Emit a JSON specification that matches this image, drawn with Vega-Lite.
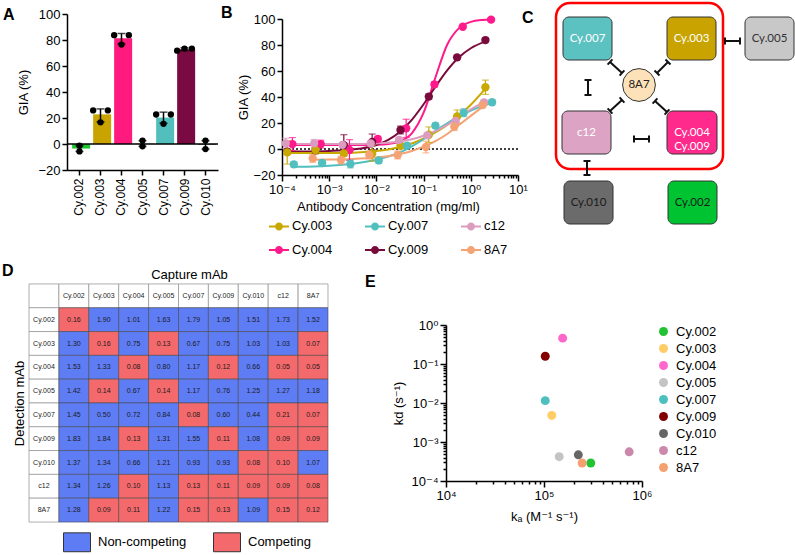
{
 "$schema": "https://vega.github.io/schema/vega-lite/v6.json",
 "padding": {"left": 2, "top": 1, "right": 0, "bottom": 0},
 "background": "white",
 "config": {
  "font": "Liberation Sans",
  "view": {"stroke": null},
  "axis": {"domainColor": "#000", "domainWidth": 1.5, "tickColor": "#000", "tickWidth": 1.5, "tickSize": 5, "labelColor": "#000", "labelFontSize": 13, "labelFont": "Liberation Sans, DejaVu Sans", "titleFont": "Liberation Sans, DejaVu Sans", "titleFontSize": 13, "titleFontWeight": "normal", "titleColor": "#000", "grid": false, "labelPadding": 2, "labelOverlap": false},
  "legend": {"labelFontSize": 13, "labelColor": "#000", "labelFont": "Liberation Sans"},
  "title": {"fontSize": 16, "fontWeight": "bold", "anchor": "start", "frame": "group", "offset": 0, "baseline": "bottom", "color": "#000", "font": "Liberation Sans"}
 },
 "datasets": {
  "giaBars": [
   {"ab": "Cy.002", "mean": -3.5, "lo": -5.7, "hi": -1.3},
   {"ab": "Cy.003", "mean": 22.8, "lo": 17, "hi": 27},
   {"ab": "Cy.004", "mean": 81.3, "lo": 77, "hi": 85},
   {"ab": "Cy.005", "mean": 0.4, "lo": -1.8, "hi": 2.6},
   {"ab": "Cy.007", "mean": 20.3, "lo": 16, "hi": 24.5},
   {"ab": "Cy.009", "mean": 72.9, "lo": 71.8, "hi": 74},
   {"ab": "Cy.010", "mean": -0.6, "lo": -3.9, "hi": 2.6}
  ],
  "giaReps": [
   {"ab": "Cy.002", "rep": "M", "v": -1.3}, {"ab": "Cy.002", "rep": "M", "v": -5.7},
   {"ab": "Cy.003", "rep": "L", "v": 25.8}, {"ab": "Cy.003", "rep": "R", "v": 25.8}, {"ab": "Cy.003", "rep": "M", "v": 16.7},
   {"ab": "Cy.004", "rep": "L", "v": 83.7}, {"ab": "Cy.004", "rep": "R", "v": 83.7}, {"ab": "Cy.004", "rep": "M", "v": 76.5},
   {"ab": "Cy.005", "rep": "M", "v": 2.6}, {"ab": "Cy.005", "rep": "M", "v": -1.8},
   {"ab": "Cy.007", "rep": "L", "v": 22.7}, {"ab": "Cy.007", "rep": "R", "v": 22.7}, {"ab": "Cy.007", "rep": "M", "v": 15.5},
   {"ab": "Cy.009", "rep": "L", "v": 71.8}, {"ab": "Cy.009", "rep": "M", "v": 73.4}, {"ab": "Cy.009", "rep": "R", "v": 73.4},
   {"ab": "Cy.010", "rep": "M", "v": 2.6}, {"ab": "Cy.010", "rep": "M", "v": -3.9}
  ],
  "curves": [
   {"s": "Cy.004", "c": 0.000166, "g": 3.0}, {"s": "Cy.004", "c": 0.000316, "g": 3.0}, {"s": "Cy.004", "c": 0.001, "g": 3.0}, {"s": "Cy.004", "c": 0.00316, "g": 3.1}, {"s": "Cy.004", "c": 0.01, "g": 3.3}, {"s": "Cy.004", "c": 0.0178, "g": 3.9}, {"s": "Cy.004", "c": 0.0316, "g": 5.9}, {"s": "Cy.004", "c": 0.0562, "g": 12.1}, {"s": "Cy.004", "c": 0.1, "g": 27.9}, {"s": "Cy.004", "c": 0.178, "g": 55}, {"s": "Cy.004", "c": 0.316, "g": 80.2}, {"s": "Cy.004", "c": 0.562, "g": 93}, {"s": "Cy.004", "c": 1, "g": 97.8}, {"s": "Cy.004", "c": 1.78, "g": 99.3}, {"s": "Cy.004", "c": 2.69, "g": 99.7},
   {"s": "Cy.009", "c": 0.000129, "g": -1.9}, {"s": "Cy.009", "c": 0.000316, "g": -1.85}, {"s": "Cy.009", "c": 0.001, "g": -1.5}, {"s": "Cy.009", "c": 0.00316, "g": -0.4}, {"s": "Cy.009", "c": 0.01, "g": 3.1}, {"s": "Cy.009", "c": 0.0178, "g": 7.0}, {"s": "Cy.009", "c": 0.0316, "g": 13.3}, {"s": "Cy.009", "c": 0.0562, "g": 22.4}, {"s": "Cy.009", "c": 0.1, "g": 34.4}, {"s": "Cy.009", "c": 0.178, "g": 47.9}, {"s": "Cy.009", "c": 0.316, "g": 60.5}, {"s": "Cy.009", "c": 0.562, "g": 70.6}, {"s": "Cy.009", "c": 1, "g": 77.5}, {"s": "Cy.009", "c": 2.04, "g": 82.8},
   {"s": "Cy.003", "c": 0.000129, "g": -3.0}, {"s": "Cy.003", "c": 0.000316, "g": -3.0}, {"s": "Cy.003", "c": 0.001, "g": -3.0}, {"s": "Cy.003", "c": 0.00316, "g": -2.8}, {"s": "Cy.003", "c": 0.01, "g": -1.6}, {"s": "Cy.003", "c": 0.0178, "g": -0.4}, {"s": "Cy.003", "c": 0.0316, "g": 1.5}, {"s": "Cy.003", "c": 0.0562, "g": 4.2}, {"s": "Cy.003", "c": 0.1, "g": 8.2}, {"s": "Cy.003", "c": 0.178, "g": 12.8}, {"s": "Cy.003", "c": 0.316, "g": 18.5}, {"s": "Cy.003", "c": 0.562, "g": 25.5}, {"s": "Cy.003", "c": 1, "g": 34}, {"s": "Cy.003", "c": 2.04, "g": 46.5},
   {"s": "Cy.007", "c": 0.000178, "g": -13.8}, {"s": "Cy.007", "c": 0.000316, "g": -13.6}, {"s": "Cy.007", "c": 0.001, "g": -12.9}, {"s": "Cy.007", "c": 0.00316, "g": -11.3}, {"s": "Cy.007", "c": 0.01, "g": -8.2}, {"s": "Cy.007", "c": 0.0178, "g": -5.8}, {"s": "Cy.007", "c": 0.0316, "g": -2.6}, {"s": "Cy.007", "c": 0.0562, "g": 2}, {"s": "Cy.007", "c": 0.1, "g": 7.5}, {"s": "Cy.007", "c": 0.178, "g": 14}, {"s": "Cy.007", "c": 0.316, "g": 19.8}, {"s": "Cy.007", "c": 0.562, "g": 25}, {"s": "Cy.007", "c": 1, "g": 29.5}, {"s": "Cy.007", "c": 1.78, "g": 33.2}, {"s": "Cy.007", "c": 2.82, "g": 35.8},
   {"s": "c12", "c": 0.00012, "g": 3.8}, {"s": "c12", "c": 0.000316, "g": 3.8}, {"s": "c12", "c": 0.001, "g": 3.8}, {"s": "c12", "c": 0.00316, "g": 3.9}, {"s": "c12", "c": 0.01, "g": 4.3}, {"s": "c12", "c": 0.0316, "g": 5.8}, {"s": "c12", "c": 0.0562, "g": 7.5}, {"s": "c12", "c": 0.1, "g": 10.2}, {"s": "c12", "c": 0.178, "g": 13.8}, {"s": "c12", "c": 0.316, "g": 18.5}, {"s": "c12", "c": 0.562, "g": 24.5}, {"s": "c12", "c": 1, "g": 30.5}, {"s": "c12", "c": 1.91, "g": 35.8},
   {"s": "8A7", "c": 0.000447, "g": -8.3}, {"s": "8A7", "c": 0.001, "g": -8.1}, {"s": "8A7", "c": 0.00316, "g": -7.6}, {"s": "8A7", "c": 0.01, "g": -6.5}, {"s": "8A7", "c": 0.0178, "g": -5.5}, {"s": "8A7", "c": 0.0316, "g": -3.8}, {"s": "8A7", "c": 0.0562, "g": -1.5}, {"s": "8A7", "c": 0.1, "g": 1.8}, {"s": "8A7", "c": 0.178, "g": 6}, {"s": "8A7", "c": 0.316, "g": 11.5}, {"s": "8A7", "c": 0.562, "g": 18.5}, {"s": "8A7", "c": 1, "g": 25.5}, {"s": "8A7", "c": 1.78, "g": 32.5}
  ],
  "pts": [
   {"s": "Cy.004", "c": 0.000166, "g": 3.8, "lo": -1.2, "hi": 8.8}, {"s": "Cy.004", "c": 0.000661, "g": 3.8, "lo": 0.8, "hi": 6.8}, {"s": "Cy.004", "c": 0.00269, "g": -0.8, "lo": -8.8, "hi": 7.2}, {"s": "Cy.004", "c": 0.0107, "g": 7.7, "lo": 5.7, "hi": 9.7}, {"s": "Cy.004", "c": 0.0427, "g": 15.9, "lo": 8.9, "hi": 22.9}, {"s": "Cy.004", "c": 0.17, "g": 49.7, "lo": 47.7, "hi": 51.7}, {"s": "Cy.004", "c": 0.676, "g": 94, "lo": 93, "hi": 95}, {"s": "Cy.004", "c": 2.69, "g": 99.5, "lo": 98.5, "hi": 100.5},
   {"s": "Cy.009", "c": 0.000129, "g": -2, "lo": -4, "hi": 0}, {"s": "Cy.009", "c": 0.000513, "g": -1, "lo": -3, "hi": 1}, {"s": "Cy.009", "c": 0.00204, "g": 3, "lo": -5, "hi": 11}, {"s": "Cy.009", "c": 0.00813, "g": 5.5, "lo": -0.5, "hi": 11.5}, {"s": "Cy.009", "c": 0.0324, "g": 14.6, "lo": 11.6, "hi": 17.6}, {"s": "Cy.009", "c": 0.129, "g": 40.3, "lo": 38.3, "hi": 42.3}, {"s": "Cy.009", "c": 0.513, "g": 70.5, "lo": 69, "hi": 72}, {"s": "Cy.009", "c": 2.04, "g": 83.8, "lo": 82.3, "hi": 85.3},
   {"s": "Cy.003", "c": 0.000129, "g": -2.6, "lo": -11.6, "hi": 6.4}, {"s": "Cy.003", "c": 0.000513, "g": -0.8, "lo": -3.8, "hi": 2.2}, {"s": "Cy.003", "c": 0.00204, "g": -3.4, "lo": -5.4, "hi": -1.4}, {"s": "Cy.003", "c": 0.00813, "g": -3.4, "lo": -9.4, "hi": 2.6}, {"s": "Cy.003", "c": 0.0324, "g": 2.5, "lo": 0.5, "hi": 4.5}, {"s": "Cy.003", "c": 0.129, "g": 11, "lo": 5, "hi": 17}, {"s": "Cy.003", "c": 0.513, "g": 25, "lo": 20, "hi": 30}, {"s": "Cy.003", "c": 2.04, "g": 47.5, "lo": 42, "hi": 53},
   {"s": "Cy.007", "c": 0.000178, "g": -11.8, "lo": -13.8, "hi": -9.8}, {"s": "Cy.007", "c": 0.000708, "g": -10.8, "lo": -12.8, "hi": -8.8}, {"s": "Cy.007", "c": 0.00282, "g": -11.5, "lo": -14.5, "hi": -8.5}, {"s": "Cy.007", "c": 0.0112, "g": -8.8, "lo": -10.8, "hi": -6.8}, {"s": "Cy.007", "c": 0.0447, "g": 2.5, "lo": 0.5, "hi": 4.5}, {"s": "Cy.007", "c": 0.178, "g": 18, "lo": 16, "hi": 20}, {"s": "Cy.007", "c": 0.708, "g": 27.9, "lo": 24.9, "hi": 30.9}, {"s": "Cy.007", "c": 2.82, "g": 36, "lo": 34, "hi": 38},
   {"s": "c12", "c": 0.00012, "g": 4.3, "lo": 0.3, "hi": 8.3}, {"s": "c12", "c": 0.000479, "g": 4.3, "lo": 1.3, "hi": 7.3}, {"s": "c12", "c": 0.00191, "g": 3.2, "lo": 1.2, "hi": 5.2}, {"s": "c12", "c": 0.00759, "g": 4.2, "lo": 2.2, "hi": 6.2}, {"s": "c12", "c": 0.0302, "g": 6.9, "lo": 4.9, "hi": 8.9}, {"s": "c12", "c": 0.12, "g": 10.5, "lo": 8.5, "hi": 12.5}, {"s": "c12", "c": 0.479, "g": 21.5, "lo": 19.5, "hi": 23.5}, {"s": "c12", "c": 1.91, "g": 35.8, "lo": 33.8, "hi": 37.8},
   {"s": "8A7", "c": 0.000447, "g": -7.2, "lo": -10.2, "hi": -4.2}, {"s": "8A7", "c": 0.00178, "g": -8.5, "lo": -11.5, "hi": -5.5}, {"s": "8A7", "c": 0.00708, "g": -4.6, "lo": -7.6, "hi": -1.6}, {"s": "8A7", "c": 0.0282, "g": -4.6, "lo": -7.6, "hi": -1.6}, {"s": "8A7", "c": 0.112, "g": 1.5, "lo": -3, "hi": 6}, {"s": "8A7", "c": 0.447, "g": 17.2, "lo": 14.2, "hi": 20.2}, {"s": "8A7", "c": 1.78, "g": 33.8, "lo": 31.8, "hi": 35.8}
  ],
  "cFrame": [{"x": 16, "x2": 183, "y": -11, "y2": 155}],
  "cBoxes": [
   {"n": "Cy.007", "t": "Cy.007", "x": 23, "x2": 72, "y": 3, "y2": 46, "cx": 47.5, "cy": 24.5},
   {"n": "Cy.003", "t": "Cy.003", "x": 127, "x2": 176, "y": 3, "y2": 46, "cx": 151.5, "cy": 24.5},
   {"n": "Cy.005", "t": "Cy.005", "x": 205, "x2": 254, "y": 3, "y2": 46, "cx": 229.5, "cy": 24.5},
   {"n": "c12", "t": "c12", "x": 22, "x2": 71, "y": 97, "y2": 140, "cx": 46.5, "cy": 118.5},
   {"n": "Cy.004/Cy.009", "t": "Cy.004\nCy.009", "x": 127, "x2": 177, "y": 97, "y2": 140, "cx": 152, "cy": 118.5},
   {"n": "Cy.010", "t": "Cy.010", "x": 24, "x2": 73, "y": 167, "y2": 210, "cx": 48.5, "cy": 188.5},
   {"n": "Cy.002", "t": "Cy.002", "x": 128, "x2": 177, "y": 167, "y2": 210, "cx": 152.5, "cy": 188.5}
  ],
  "cHub": [{"t": "8A7", "x": 99, "y": 71}],
  "cLinks": [
   {"x": 185, "y": 27, "x2": 200, "y2": 27}, {"x": 185, "y": 23.5, "x2": 185, "y2": 30.5}, {"x": 200, "y": 23.5, "x2": 200, "y2": 30.5},
   {"x": 48, "y": 66, "x2": 48, "y2": 81}, {"x": 44.5, "y": 66, "x2": 51.5, "y2": 66}, {"x": 44.5, "y": 81, "x2": 51.5, "y2": 81},
   {"x": 94, "y": 125, "x2": 109, "y2": 125}, {"x": 94, "y": 121.5, "x2": 94, "y2": 128.5}, {"x": 109, "y": 121.5, "x2": 109, "y2": 128.5},
   {"x": 47, "y": 147, "x2": 47, "y2": 161}, {"x": 43.5, "y": 147, "x2": 50.5, "y2": 147}, {"x": 43.5, "y": 161, "x2": 50.5, "y2": 161},
   {"x": 70, "y": 48, "x2": 82, "y2": 59}, {"x": 67.6, "y": 50.6, "x2": 72.4, "y2": 45.4}, {"x": 79.6, "y": 61.6, "x2": 84.4, "y2": 56.4},
   {"x": 128, "y": 48, "x2": 117, "y2": 59}, {"x": 125.5, "y": 45.5, "x2": 130.5, "y2": 50.5}, {"x": 114.5, "y": 56.5, "x2": 119.5, "y2": 61.5},
   {"x": 70, "y": 97, "x2": 82, "y2": 86}, {"x": 67.6, "y": 94.4, "x2": 72.4, "y2": 99.6}, {"x": 79.6, "y": 83.4, "x2": 84.4, "y2": 88.6},
   {"x": 127, "y": 98, "x2": 115, "y2": 87}, {"x": 124.6, "y": 100.6, "x2": 129.4, "y2": 95.4}, {"x": 112.6, "y": 89.6, "x2": 117.4, "y2": 84.4}
  ],
  "table": [
   {"r": "_", "c": "_", "t": "", "k": "Header"},
   {"r": "_", "c": "Cy.002", "t": "Cy.002", "k": "Header"}, {"r": "_", "c": "Cy.003", "t": "Cy.003", "k": "Header"}, {"r": "_", "c": "Cy.004", "t": "Cy.004", "k": "Header"}, {"r": "_", "c": "Cy.005", "t": "Cy.005", "k": "Header"}, {"r": "_", "c": "Cy.007", "t": "Cy.007", "k": "Header"}, {"r": "_", "c": "Cy.009", "t": "Cy.009", "k": "Header"}, {"r": "_", "c": "Cy.010", "t": "Cy.010", "k": "Header"}, {"r": "_", "c": "c12", "t": "c12", "k": "Header"}, {"r": "_", "c": "8A7", "t": "8A7", "k": "Header"},
   {"r": "Cy.002", "c": "_", "t": "Cy.002", "k": "Header"}, {"r": "Cy.003", "c": "_", "t": "Cy.003", "k": "Header"}, {"r": "Cy.004", "c": "_", "t": "Cy.004", "k": "Header"}, {"r": "Cy.005", "c": "_", "t": "Cy.005", "k": "Header"}, {"r": "Cy.007", "c": "_", "t": "Cy.007", "k": "Header"}, {"r": "Cy.009", "c": "_", "t": "Cy.009", "k": "Header"}, {"r": "Cy.010", "c": "_", "t": "Cy.010", "k": "Header"}, {"r": "c12", "c": "_", "t": "c12", "k": "Header"}, {"r": "8A7", "c": "_", "t": "8A7", "k": "Header"},
   {"r": "Cy.002", "c": "Cy.002", "t": "0.16", "k": "Competing"}, {"r": "Cy.002", "c": "Cy.003", "t": "1.90", "k": "Non-competing"}, {"r": "Cy.002", "c": "Cy.004", "t": "1.01", "k": "Non-competing"}, {"r": "Cy.002", "c": "Cy.005", "t": "1.63", "k": "Non-competing"}, {"r": "Cy.002", "c": "Cy.007", "t": "1.79", "k": "Non-competing"}, {"r": "Cy.002", "c": "Cy.009", "t": "1.05", "k": "Non-competing"}, {"r": "Cy.002", "c": "Cy.010", "t": "1.51", "k": "Non-competing"}, {"r": "Cy.002", "c": "c12", "t": "1.73", "k": "Non-competing"}, {"r": "Cy.002", "c": "8A7", "t": "1.52", "k": "Non-competing"},
   {"r": "Cy.003", "c": "Cy.002", "t": "1.30", "k": "Non-competing"}, {"r": "Cy.003", "c": "Cy.003", "t": "0.16", "k": "Competing"}, {"r": "Cy.003", "c": "Cy.004", "t": "0.75", "k": "Non-competing"}, {"r": "Cy.003", "c": "Cy.005", "t": "0.13", "k": "Competing"}, {"r": "Cy.003", "c": "Cy.007", "t": "0.67", "k": "Non-competing"}, {"r": "Cy.003", "c": "Cy.009", "t": "0.75", "k": "Non-competing"}, {"r": "Cy.003", "c": "Cy.010", "t": "1.03", "k": "Non-competing"}, {"r": "Cy.003", "c": "c12", "t": "1.03", "k": "Non-competing"}, {"r": "Cy.003", "c": "8A7", "t": "0.07", "k": "Competing"},
   {"r": "Cy.004", "c": "Cy.002", "t": "1.53", "k": "Non-competing"}, {"r": "Cy.004", "c": "Cy.003", "t": "1.33", "k": "Non-competing"}, {"r": "Cy.004", "c": "Cy.004", "t": "0.08", "k": "Competing"}, {"r": "Cy.004", "c": "Cy.005", "t": "0.80", "k": "Non-competing"}, {"r": "Cy.004", "c": "Cy.007", "t": "1.17", "k": "Non-competing"}, {"r": "Cy.004", "c": "Cy.009", "t": "0.12", "k": "Competing"}, {"r": "Cy.004", "c": "Cy.010", "t": "0.66", "k": "Non-competing"}, {"r": "Cy.004", "c": "c12", "t": "0.05", "k": "Competing"}, {"r": "Cy.004", "c": "8A7", "t": "0.05", "k": "Competing"},
   {"r": "Cy.005", "c": "Cy.002", "t": "1.42", "k": "Non-competing"}, {"r": "Cy.005", "c": "Cy.003", "t": "0.14", "k": "Competing"}, {"r": "Cy.005", "c": "Cy.004", "t": "0.67", "k": "Non-competing"}, {"r": "Cy.005", "c": "Cy.005", "t": "0.14", "k": "Competing"}, {"r": "Cy.005", "c": "Cy.007", "t": "1.17", "k": "Non-competing"}, {"r": "Cy.005", "c": "Cy.009", "t": "0.76", "k": "Non-competing"}, {"r": "Cy.005", "c": "Cy.010", "t": "1.25", "k": "Non-competing"}, {"r": "Cy.005", "c": "c12", "t": "1.27", "k": "Non-competing"}, {"r": "Cy.005", "c": "8A7", "t": "1.18", "k": "Non-competing"},
   {"r": "Cy.007", "c": "Cy.002", "t": "1.45", "k": "Non-competing"}, {"r": "Cy.007", "c": "Cy.003", "t": "0.50", "k": "Non-competing"}, {"r": "Cy.007", "c": "Cy.004", "t": "0.72", "k": "Non-competing"}, {"r": "Cy.007", "c": "Cy.005", "t": "0.84", "k": "Non-competing"}, {"r": "Cy.007", "c": "Cy.007", "t": "0.08", "k": "Competing"}, {"r": "Cy.007", "c": "Cy.009", "t": "0.60", "k": "Non-competing"}, {"r": "Cy.007", "c": "Cy.010", "t": "0.44", "k": "Non-competing"}, {"r": "Cy.007", "c": "c12", "t": "0.21", "k": "Competing"}, {"r": "Cy.007", "c": "8A7", "t": "0.07", "k": "Competing"},
   {"r": "Cy.009", "c": "Cy.002", "t": "1.83", "k": "Non-competing"}, {"r": "Cy.009", "c": "Cy.003", "t": "1.84", "k": "Non-competing"}, {"r": "Cy.009", "c": "Cy.004", "t": "0.13", "k": "Competing"}, {"r": "Cy.009", "c": "Cy.005", "t": "1.31", "k": "Non-competing"}, {"r": "Cy.009", "c": "Cy.007", "t": "1.55", "k": "Non-competing"}, {"r": "Cy.009", "c": "Cy.009", "t": "0.11", "k": "Competing"}, {"r": "Cy.009", "c": "Cy.010", "t": "1.08", "k": "Non-competing"}, {"r": "Cy.009", "c": "c12", "t": "0.09", "k": "Competing"}, {"r": "Cy.009", "c": "8A7", "t": "0.09", "k": "Competing"},
   {"r": "Cy.010", "c": "Cy.002", "t": "1.37", "k": "Non-competing"}, {"r": "Cy.010", "c": "Cy.003", "t": "1.34", "k": "Non-competing"}, {"r": "Cy.010", "c": "Cy.004", "t": "0.66", "k": "Non-competing"}, {"r": "Cy.010", "c": "Cy.005", "t": "1.21", "k": "Non-competing"}, {"r": "Cy.010", "c": "Cy.007", "t": "0.93", "k": "Non-competing"}, {"r": "Cy.010", "c": "Cy.009", "t": "0.93", "k": "Non-competing"}, {"r": "Cy.010", "c": "Cy.010", "t": "0.08", "k": "Competing"}, {"r": "Cy.010", "c": "c12", "t": "0.10", "k": "Competing"}, {"r": "Cy.010", "c": "8A7", "t": "1.07", "k": "Non-competing"},
   {"r": "c12", "c": "Cy.002", "t": "1.34", "k": "Non-competing"}, {"r": "c12", "c": "Cy.003", "t": "1.26", "k": "Non-competing"}, {"r": "c12", "c": "Cy.004", "t": "0.10", "k": "Competing"}, {"r": "c12", "c": "Cy.005", "t": "1.13", "k": "Non-competing"}, {"r": "c12", "c": "Cy.007", "t": "0.13", "k": "Competing"}, {"r": "c12", "c": "Cy.009", "t": "0.11", "k": "Competing"}, {"r": "c12", "c": "Cy.010", "t": "0.09", "k": "Competing"}, {"r": "c12", "c": "c12", "t": "0.09", "k": "Competing"}, {"r": "c12", "c": "8A7", "t": "0.08", "k": "Competing"},
   {"r": "8A7", "c": "Cy.002", "t": "1.28", "k": "Non-competing"}, {"r": "8A7", "c": "Cy.003", "t": "0.09", "k": "Competing"}, {"r": "8A7", "c": "Cy.004", "t": "0.11", "k": "Competing"}, {"r": "8A7", "c": "Cy.005", "t": "1.22", "k": "Non-competing"}, {"r": "8A7", "c": "Cy.007", "t": "0.15", "k": "Competing"}, {"r": "8A7", "c": "Cy.009", "t": "0.13", "k": "Competing"}, {"r": "8A7", "c": "Cy.010", "t": "1.09", "k": "Non-competing"}, {"r": "8A7", "c": "c12", "t": "0.15", "k": "Competing"}, {"r": "8A7", "c": "8A7", "t": "0.12", "k": "Competing"}
  ],
  "kin": [
   {"ab": "Cy.002", "ka": 300000, "kd": 0.00029},
   {"ab": "Cy.003", "ka": 120000, "kd": 0.0048},
   {"ab": "Cy.004", "ka": 155000, "kd": 0.46},
   {"ab": "Cy.005", "ka": 143000, "kd": 0.00042},
   {"ab": "Cy.007", "ka": 103000, "kd": 0.0115},
   {"ab": "Cy.009", "ka": 103000, "kd": 0.158},
   {"ab": "Cy.010", "ka": 224000, "kd": 0.00047},
   {"ab": "c12", "ka": 740000, "kd": 0.00056},
   {"ab": "8A7", "ka": 245000, "kd": 0.00029}
  ]
 },
 "bounds": "full",
 "columns": 1,
 "spacing": 5,
 "resolve": {"scale": {"color": "independent", "fill": "independent"}, "legend": {"color": "independent", "fill": "independent"}},
 "concat": [
  {
   "bounds": "flush",
   "spacing": 20,
   "resolve": {"scale": {"color": "independent", "fill": "independent"}, "legend": {"color": "independent", "fill": "independent"}},
   "hconcat": [
    {
     "width": 18, "height": 10,
     "data": {"values": [{}]},
     "mark": {"type": "point", "opacity": 0},
     "encoding": {}
    },
    {
     "bounds": "flush",
     "spacing": 64,
     "resolve": {"scale": {"color": "independent", "fill": "independent"}, "legend": {"color": "independent", "fill": "independent"}},
     "hconcat": [
      {
       "width": 151, "height": 156,
       "title": {"text": "A", "dx": -64, "dy": 19},
       "layer": [
        {
         "data": {"name": "giaBars"},
         "mark": {"type": "bar"},
         "encoding": {
          "x": {"field": "ab", "type": "nominal", "sort": null, "scale": {"domain": ["Cy.002", "Cy.003", "Cy.004", "Cy.005", "Cy.007", "Cy.009", "Cy.010"], "paddingInner": 0.3, "paddingOuter": 0.245}, "axis": {"title": null, "labelAngle": -90, "labelFontSize": 12, "labelPadding": 3}},
          "y": {"field": "mean", "type": "quantitative", "scale": {"domain": [-20, 100], "nice": false, "zero": false}, "axis": {"title": "GIA (%)", "values": [-20, 0, 20, 40, 60, 80, 100], "titlePadding": 7, "labelOverlap": false}},
          "fill": {"field": "ab", "type": "nominal", "scale": {"domain": ["Cy.002", "Cy.003", "Cy.004", "Cy.005", "Cy.007", "Cy.009", "Cy.010"], "range": ["#1fc634", "#c9a400", "#ff1a7d", "#bdbdbd", "#52bfbd", "#7c0a42", "#666666"]}, "legend": null}
         }
        },
        {
         "data": {"values": [{}]},
         "mark": {"type": "rule", "color": "#000", "strokeWidth": 1.5},
         "encoding": {"y": {"datum": 0, "type": "quantitative", "axis": {"title": "GIA (%)", "values": [-20, 0, 20, 40, 60, 80, 100], "titlePadding": 7, "labelOverlap": false}}}
        },
        {
         "data": {"name": "giaBars"},
         "mark": {"type": "errorbar", "ticks": {"size": 8}, "thickness": 1.5, "color": "#000"},
         "encoding": {
          "x": {"field": "ab", "type": "nominal", "sort": null, "axis": {"title": null, "labelAngle": -90, "labelFontSize": 12, "labelPadding": 3}},
          "y": {"field": "lo", "type": "quantitative", "axis": {"title": "GIA (%)", "values": [-20, 0, 20, 40, 60, 80, 100], "titlePadding": 7, "labelOverlap": false}},
          "y2": {"field": "hi"}
         }
        },
        {
         "data": {"name": "giaReps"},
         "mark": {"type": "circle", "size": 40, "color": "#000", "opacity": 1},
         "encoding": {
          "x": {"field": "ab", "type": "nominal", "sort": null, "axis": {"title": null, "labelAngle": -90, "labelFontSize": 12, "labelPadding": 3}},
          "xOffset": {"field": "rep", "type": "nominal", "scale": {"domain": ["L", "M", "R"], "paddingInner": 0, "paddingOuter": 0}},
          "y": {"field": "v", "type": "quantitative", "axis": {"title": "GIA (%)", "values": [-20, 0, 20, 40, 60, 80, 100], "titlePadding": 7, "labelOverlap": false}}
         }
        }
       ]
      },
      {
       "bounds": "flush",
       "spacing": 22,
       "center": true,
       "resolve": {"scale": {"color": "independent", "fill": "independent"}, "legend": {"color": "independent", "fill": "independent"}},
       "hconcat": [
        {
         "width": 236, "height": 156,
         "title": {"text": "B", "dx": -61, "dy": 12},
         "layer": [
          {
           "data": {"values": [{}]},
           "mark": {"type": "rule", "color": "#000", "strokeWidth": 1.5, "strokeDash": [2, 2]},
           "encoding": {"y": {"datum": 0, "type": "quantitative", "axis": {"title": "GIA (%)", "values": [-20, 0, 20, 40, 60, 80, 100], "titlePadding": 2, "labelOverlap": false}}}
          },
          {
           "data": {"name": "curves"},
           "mark": {"type": "line", "interpolate": "monotone", "strokeWidth": 2},
           "encoding": {
            "x": {"field": "c", "type": "quantitative", "scale": {"type": "log", "domain": [0.0001, 10], "nice": false}, "axis": {"title": "Antibody Concentration (mg/ml)", "titleX": 106, "values": [0.0001, 0.0002, 0.0003, 0.0004, 0.0005, 0.0006, 0.0007, 0.0008, 0.0009, 0.001, 0.002, 0.003, 0.004, 0.005, 0.006, 0.007, 0.008, 0.009, 0.01, 0.02, 0.03, 0.04, 0.05, 0.06, 0.07, 0.08, 0.09, 0.1, 0.2, 0.3, 0.4, 0.5, 0.6, 0.7, 0.8, 0.9, 1, 2, 3, 4, 5, 6, 7, 8, 9, 10], "labelExpr": "abs(log(datum.value)/LN10 - round(log(datum.value)/LN10)) < 0.000001 ? '10' + ['⁻⁴','⁻³','⁻²','⁻¹','⁰','¹'][round(log(datum.value)/LN10) + 4] : ''", "labelOverlap": false, "labelFlush": false, "tickSize": {"condition": {"test": "abs(log(datum.value)/LN10 - round(log(datum.value)/LN10)) < 0.000001", "value": 6}, "value": 3}, "titlePadding": 4}},
            "y": {"field": "g", "type": "quantitative", "scale": {"domain": [-20, 100], "nice": false, "zero": false}, "axis": {"title": "GIA (%)", "values": [-20, 0, 20, 40, 60, 80, 100], "titlePadding": 2, "labelOverlap": false}},
            "color": {"field": "s", "type": "nominal", "scale": {"domain": ["Cy.003", "Cy.004", "Cy.007", "Cy.009", "c12", "8A7"], "range": ["#c9a800", "#ff1a8c", "#52bfbf", "#7a0a3c", "#dc9cbf", "#f5a274"]}, "legend": {"orient": "none", "legendX": -11, "legendY": 199, "columns": 3, "title": null, "symbolType": "M-1.5,0H1.5M-0.45,0A0.45,0.45 0 1 1 0.45,0A0.45,0.45 0 1 1 -0.45,0Z", "symbolSize": 178, "symbolStrokeWidth": 2, "labelOffset": 5, "columnPadding": 27, "rowPadding": 8, "encode": {"symbols": {"update": {"fill": {"signal": "['#c9a800','#52bfbf','#dc9cbf','#ff1a8c','#7a0a3c','#f5a274'][indexof(['Cy.003','Cy.007','c12','Cy.004','Cy.009','8A7'], datum.value)]"}, "stroke": {"signal": "['#c9a800','#52bfbf','#dc9cbf','#ff1a8c','#7a0a3c','#f5a274'][indexof(['Cy.003','Cy.007','c12','Cy.004','Cy.009','8A7'], datum.value)]"}, "opacity": {"value": 1}}}}}}
           }
          },
          {
           "data": {"name": "pts"},
           "mark": {"type": "errorbar", "ticks": {"size": 7}, "thickness": 1.2},
           "encoding": {
            "x": {"field": "c", "type": "quantitative", "scale": {"type": "log", "domain": [0.0001, 10], "nice": false}, "axis": {"title": "Antibody Concentration (mg/ml)"}},
            "y": {"field": "lo", "type": "quantitative", "axis": {"title": "GIA (%)", "values": [-20, 0, 20, 40, 60, 80, 100], "titlePadding": 2, "labelOverlap": false}},
            "y2": {"field": "hi"},
            "color": {"field": "s", "type": "nominal", "legend": null}
           }
          },
          {
           "data": {"name": "pts"},
           "mark": {"type": "circle", "size": 70, "opacity": 1},
           "encoding": {
            "x": {"field": "c", "type": "quantitative", "scale": {"type": "log", "domain": [0.0001, 10], "nice": false}, "axis": {"title": "Antibody Concentration (mg/ml)"}},
            "y": {"field": "g", "type": "quantitative", "axis": {"title": "GIA (%)", "values": [-20, 0, 20, 40, 60, 80, 100], "titlePadding": 2, "labelOverlap": false}},
            "color": {"field": "s", "type": "nominal", "legend": null}
           }
          }
         ]
        },
        {
         "width": 255, "height": 166,
         "title": {"text": "C", "dx": -18, "dy": 28},
         "layer": [
          {
           "data": {"name": "cFrame"},
           "mark": {"type": "rect", "fill": "transparent", "stroke": "#ff0000", "strokeWidth": 2.5, "cornerRadius": 14},
           "encoding": {
            "x": {"field": "x", "type": "quantitative", "scale": {"domain": [0, 255], "nice": false, "zero": false}, "axis": null},
            "x2": {"field": "x2"},
            "y": {"field": "y", "type": "quantitative", "scale": {"domain": [0, 166], "nice": false, "zero": false, "reverse": true}, "axis": null},
            "y2": {"field": "y2"}
           }
          },
          {
           "data": {"name": "cBoxes"},
           "mark": {"type": "rect", "stroke": "#333", "strokeWidth": 1, "cornerRadius": 6},
           "encoding": {
            "x": {"field": "x", "type": "quantitative", "scale": {"domain": [0, 255], "nice": false, "zero": false}, "axis": null},
            "x2": {"field": "x2"},
            "y": {"field": "y", "type": "quantitative", "scale": {"domain": [0, 166], "nice": false, "zero": false, "reverse": true}, "axis": null},
            "y2": {"field": "y2"},
            "fill": {"field": "n", "type": "nominal", "scale": {"domain": ["Cy.007", "Cy.003", "Cy.005", "c12", "Cy.004/Cy.009", "Cy.010", "Cy.002"], "range": ["#5cc1c1", "#c9a400", "#c8c8c8", "#dca3c4", "#ff2a8c", "#6b6b6b", "#00c332"]}, "legend": null}
           }
          },
          {
           "data": {"name": "cBoxes"},
           "mark": {"type": "text", "font": "Lato", "fontSize": 11.5, "lineBreak": "\n", "lineHeight": 14},
           "encoding": {
            "x": {"field": "cx", "type": "quantitative", "scale": {"domain": [0, 255], "nice": false, "zero": false}, "axis": null},
            "y": {"field": "cy", "type": "quantitative", "scale": {"domain": [0, 166], "nice": false, "zero": false, "reverse": true}, "axis": null},
            "text": {"field": "t"},
            "color": {"field": "n", "type": "nominal", "scale": {"domain": ["Cy.007", "Cy.003", "Cy.005", "c12", "Cy.004/Cy.009", "Cy.010", "Cy.002"], "range": ["#ffffff", "#ffffff", "#333333", "#ffffff", "#ffffff", "#1a1a1a", "#1a1a1a"]}, "legend": null}
           }
          },
          {
           "data": {"name": "cLinks"},
           "mark": {"type": "rule", "color": "#111", "strokeWidth": 2},
           "encoding": {
            "x": {"field": "x", "type": "quantitative", "scale": {"domain": [0, 255], "nice": false, "zero": false}, "axis": null},
            "x2": {"field": "x2"},
            "y": {"field": "y", "type": "quantitative", "scale": {"domain": [0, 166], "nice": false, "zero": false, "reverse": true}, "axis": null},
            "y2": {"field": "y2"}
           }
          },
          {
           "data": {"name": "cHub"},
           "mark": {"type": "point", "shape": "circle", "filled": true, "size": 1075, "fill": "#fde2b9", "stroke": "#333", "strokeWidth": 1, "opacity": 1},
           "encoding": {
            "x": {"field": "x", "type": "quantitative", "scale": {"domain": [0, 255], "nice": false, "zero": false}, "axis": null},
            "y": {"field": "y", "type": "quantitative", "scale": {"domain": [0, 166], "nice": false, "zero": false, "reverse": true}, "axis": null}
           }
          },
          {
           "data": {"name": "cHub"},
           "mark": {"type": "text", "font": "Lato", "fontSize": 11.5, "color": "#222"},
           "encoding": {
            "x": {"field": "x", "type": "quantitative", "scale": {"domain": [0, 255], "nice": false, "zero": false}, "axis": null},
            "y": {"field": "y", "type": "quantitative", "scale": {"domain": [0, 166], "nice": false, "zero": false, "reverse": true}, "axis": null},
            "text": {"field": "t"}
           }
          }
         ]
        }
       ]
      }
     ]
    }
   ]
  },
  {
   "bounds": "flush",
   "spacing": 118,
   "center": true,
   "resolve": {"scale": {"color": "independent", "fill": "independent"}, "legend": {"color": "independent", "fill": "independent"}},
   "hconcat": [
    {
     "width": 299, "height": 238,
     "title": {"text": "D", "dx": -27, "dy": 15},
     "data": {"name": "table"},
     "layer": [
      {
       "transform": [{"filter": "datum.k == 'Header'"}],
       "mark": {"type": "point", "shape": "M-1,-0.8H1V0.8H-1Z", "size": 894, "filled": true, "fill": "#ffffff", "stroke": "#999", "strokeWidth": 0.8, "opacity": 1},
       "encoding": {
        "x": {"field": "c", "type": "nominal", "scale": {"domain": ["_", "Cy.002", "Cy.003", "Cy.004", "Cy.005", "Cy.007", "Cy.009", "Cy.010", "c12", "8A7"], "paddingInner": 0, "paddingOuter": 0}, "axis": {"orient": "top", "title": "Capture mAb", "titleX": 160, "labels": false, "ticks": false, "domain": false, "titlePadding": 3}},
        "y": {"field": "r", "type": "nominal", "scale": {"domain": ["_", "Cy.002", "Cy.003", "Cy.004", "Cy.005", "Cy.007", "Cy.009", "Cy.010", "c12", "8A7"], "paddingInner": 0, "paddingOuter": 0}, "axis": {"title": "Detection mAb", "labels": false, "ticks": false, "domain": false, "titlePadding": 3}}
       }
      },
      {
       "transform": [{"filter": "datum.k != 'Header'"}],
       "mark": {"type": "point", "shape": "M-1,-0.8H1V0.8H-1Z", "size": 894, "filled": true, "stroke": "#4a4a4a", "strokeWidth": 0.6, "opacity": 1},
       "encoding": {
        "x": {"field": "c", "type": "nominal", "scale": {"domain": ["_", "Cy.002", "Cy.003", "Cy.004", "Cy.005", "Cy.007", "Cy.009", "Cy.010", "c12", "8A7"], "paddingInner": 0, "paddingOuter": 0}, "axis": {"orient": "top", "title": "Capture mAb", "titleX": 160, "labels": false, "ticks": false, "domain": false, "titlePadding": 3}},
        "y": {"field": "r", "type": "nominal", "scale": {"domain": ["_", "Cy.002", "Cy.003", "Cy.004", "Cy.005", "Cy.007", "Cy.009", "Cy.010", "c12", "8A7"], "paddingInner": 0, "paddingOuter": 0}, "axis": {"title": "Detection mAb", "labels": false, "ticks": false, "domain": false, "titlePadding": 3}},
        "color": {"field": "k", "type": "nominal", "scale": {"domain": ["Non-competing", "Competing"], "range": ["#5e7df5", "#f4696b"]}, "legend": {"orient": "none", "legendX": 34, "legendY": 244, "direction": "horizontal", "title": null, "symbolType": "M-1,-0.7H1V0.7H-1Z", "symbolSize": 729, "symbolStrokeColor": "#333", "symbolStrokeWidth": 1, "symbolOpacity": 1, "labelOffset": 7, "columnPadding": 24, "labelFontSize": 13}}
       }
      },
      {
       "mark": {"type": "text", "fontSize": 7, "color": "#1b1b1b", "fill": "#1b1b1b"},
       "encoding": {
        "x": {"field": "c", "type": "nominal", "scale": {"domain": ["_", "Cy.002", "Cy.003", "Cy.004", "Cy.005", "Cy.007", "Cy.009", "Cy.010", "c12", "8A7"], "paddingInner": 0, "paddingOuter": 0}, "axis": {"orient": "top", "title": "Capture mAb", "titleX": 160, "labels": false, "ticks": false, "domain": false, "titlePadding": 3}},
        "y": {"field": "r", "type": "nominal", "scale": {"domain": ["_", "Cy.002", "Cy.003", "Cy.004", "Cy.005", "Cy.007", "Cy.009", "Cy.010", "c12", "8A7"], "paddingInner": 0, "paddingOuter": 0}, "axis": {"title": "Detection mAb", "labels": false, "ticks": false, "domain": false, "titlePadding": 3}},
        "text": {"field": "t"}
       }
      }
     ]
    },
    {
     "width": 196, "height": 156,
     "title": {"text": "E", "dx": -81, "dy": -25},
     "data": {"name": "kin"},
     "mark": {"type": "circle", "size": 80, "opacity": 1},
     "encoding": {
      "x": {"field": "ka", "type": "quantitative", "scale": {"type": "log", "domain": [10000, 1000000], "nice": false}, "axis": {"title": "kₐ (M⁻¹ s⁻¹)", "values": [10000, 20000, 30000, 40000, 50000, 60000, 70000, 80000, 90000, 100000, 200000, 300000, 400000, 500000, 600000, 700000, 800000, 900000, 1000000], "labelExpr": "abs(log(datum.value)/LN10 - round(log(datum.value)/LN10)) < 0.000001 ? '10' + ['⁴','⁵','⁶'][round(log(datum.value)/LN10) - 4] : ''", "labelOverlap": false, "labelFlush": false, "tickSize": {"condition": {"test": "abs(log(datum.value)/LN10 - round(log(datum.value)/LN10)) < 0.000001", "value": 6}, "value": 3}, "titlePadding": 8}},
      "y": {"field": "kd", "type": "quantitative", "scale": {"type": "log", "domain": [0.0001, 1], "nice": false}, "axis": {"title": "kd (s⁻¹)", "values": [0.0001, 0.0002, 0.0003, 0.0004, 0.0005, 0.0006, 0.0007, 0.0008, 0.0009, 0.001, 0.002, 0.003, 0.004, 0.005, 0.006, 0.007, 0.008, 0.009, 0.01, 0.02, 0.03, 0.04, 0.05, 0.06, 0.07, 0.08, 0.09, 0.1, 0.2, 0.3, 0.4, 0.5, 0.6, 0.7, 0.8, 0.9, 1], "labelExpr": "abs(log(datum.value)/LN10 - round(log(datum.value)/LN10)) < 0.000001 ? '10' + ['⁻⁴','⁻³','⁻²','⁻¹','⁰'][round(log(datum.value)/LN10) + 4] : ''", "labelOverlap": false, "labelFlush": false, "tickSize": {"condition": {"test": "abs(log(datum.value)/LN10 - round(log(datum.value)/LN10)) < 0.000001", "value": 6}, "value": 3}, "titlePadding": 6}},
      "color": {"field": "ab", "type": "nominal", "scale": {"domain": ["Cy.002", "Cy.003", "Cy.004", "Cy.005", "Cy.007", "Cy.009", "Cy.010", "c12", "8A7"], "range": ["#22c232", "#ffcd66", "#ff66cc", "#c4c4c4", "#4dbfbf", "#820000", "#666666", "#cc88aa", "#f4a070"]}, "legend": {"orient": "right", "offset": 15, "title": null, "symbolType": "circle", "symbolSize": 80, "rowPadding": 3, "labelOffset": 6, "labelFontSize": 13}}
     }
    }
   ]
  }
 ]
}
